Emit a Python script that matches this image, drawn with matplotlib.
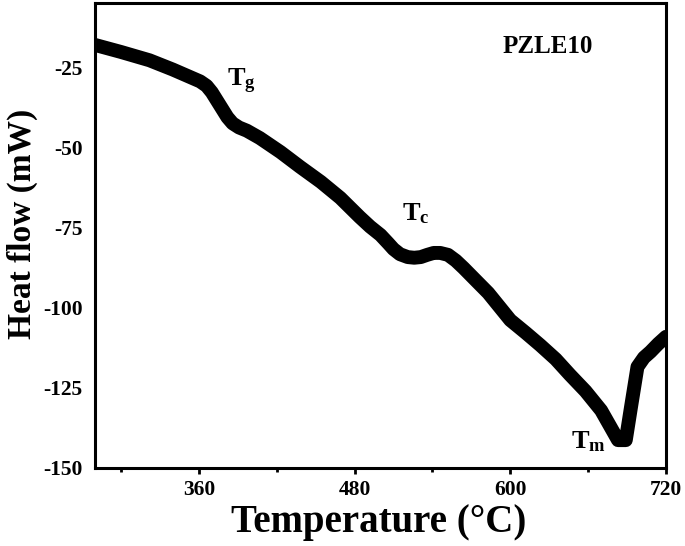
import matplotlib
matplotlib.use("Agg")
import matplotlib.pyplot as plt
from matplotlib.ticker import MultipleLocator

plt.rcParams['font.family'] = ['Liberation Serif', 'DejaVu Serif']
plt.rcParams['font.weight'] = 'bold'
plt.rcParams['axes.unicode_minus'] = False
plt.rcParams['mathtext.fontset'] = 'custom'
plt.rcParams['mathtext.rm'] = 'Liberation Serif:bold'
plt.rcParams['mathtext.it'] = 'Liberation Serif:bold'
plt.rcParams['mathtext.bf'] = 'Liberation Serif:bold'

# DSC trace
temperature = [280, 300, 322, 340, 361, 366, 370, 374, 378, 382, 386, 391, 397,
               407, 423, 438, 454, 469, 484, 492, 500, 506, 510, 515, 521, 526,
               531, 536, 541, 546, 552, 558, 564, 573, 583, 592, 600, 612, 623,
               635, 646, 658, 670, 677, 683, 689, 693, 698, 703, 708, 714, 720]
heat_flow = [-17.8, -20.0, -22.6, -25.5, -29.2, -30.6, -32.6, -35.2, -37.8, -40.4,
             -42.3, -43.6, -44.6, -46.9, -51.3, -55.9, -60.6, -65.6, -71.6, -74.6,
             -77.2, -79.8, -81.6, -83.2, -84.1, -84.3, -84.1, -83.4, -82.8, -82.8,
             -83.4, -85.2, -87.5, -91.2, -95.3, -99.8, -103.8, -107.8, -111.6,
             -116.0, -120.9, -126.0, -132.0, -137.0, -141.3, -141.3, -131.0,
             -118.4, -115.5, -113.7, -111.2, -109.0]

x_major = 120
x_minor = 60
y_ticks = [-150, -125, -100, -75, -50, -25]

fig = plt.figure(figsize=(6.85, 5.46), dpi=100)
ax = fig.add_axes([0.1387, 0.1429, 0.8336, 0.8516])

ax.plot(temperature, heat_flow, color='black', lw=10,
        solid_capstyle='round', solid_joinstyle='round')

ax.set_xlim(280, 720)
ax.set_ylim(-150, -4.7)
ax.xaxis.set_major_locator(MultipleLocator(x_major))
ax.xaxis.set_minor_locator(MultipleLocator(x_minor))
ax.set_yticks(y_ticks)

for s in ax.spines.values():
    s.set_linewidth(2.2)

ax.tick_params(axis='x', which='major', direction='out', length=4, width=2,
               pad=5, labelsize=15.5)
ax.tick_params(axis='x', which='minor', direction='out', length=3, width=2)
ax.tick_params(axis='y', length=0, pad=9, labelsize=15.5)

ax.set_xlabel('Temperature (°C)', fontsize=28, fontweight='bold')
ax.set_ylabel('Heat flow (mW)', fontsize=24, fontweight='bold')
ax.xaxis.set_label_coords(0.497, -0.077)
ax.yaxis.set_label_coords(-0.10, 0.525)

ax.text(0.713, 0.892, 'PZLE10', transform=ax.transAxes, fontsize=18,
        fontweight='bold', ha='left', va='baseline')
ax.text(381.9, -30.9, r'$T_g$', fontsize=19, ha='left', va='baseline')
ax.text(516.9, -72.5, r'$T_c$', fontsize=19, ha='left', va='baseline')
ax.text(646.5, -143.75, r'$T_m$', fontsize=19, ha='left', va='baseline')

fig.savefig('out.png', dpi=100)
